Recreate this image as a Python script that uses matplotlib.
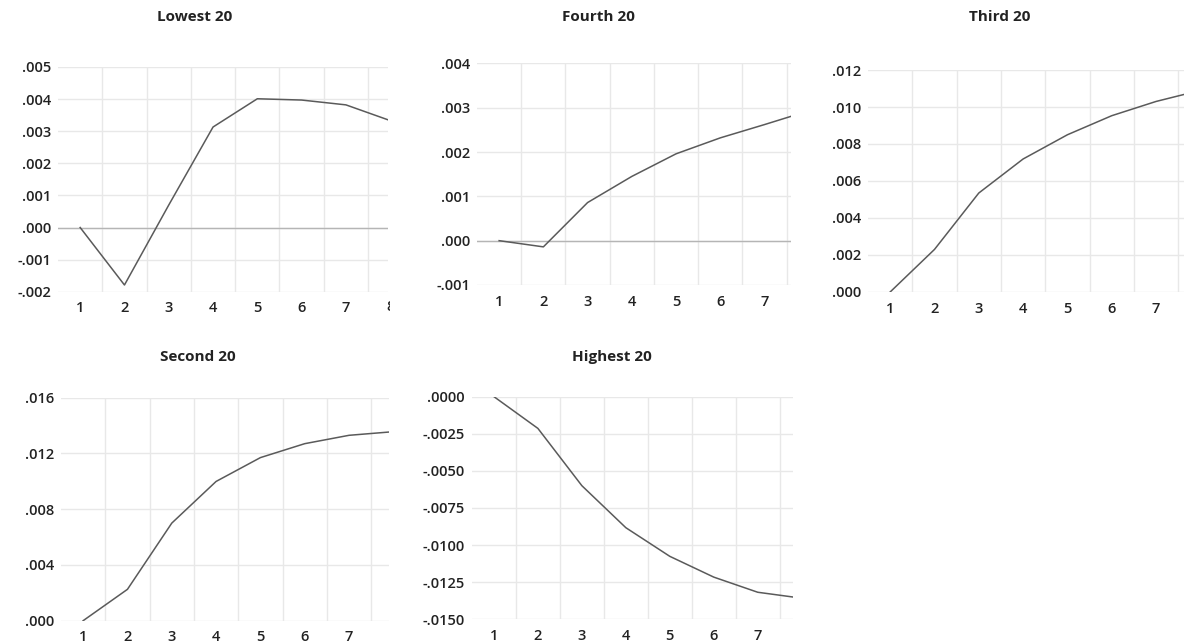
import matplotlib
matplotlib.use("Agg")
from matplotlib import pyplot as plt
from matplotlib.ticker import FixedLocator
from matplotlib.transforms import Bbox
import numpy as np

plt.rcParams['font.family'] = ['Open Sans', 'DejaVu Sans']

periods = [1, 2, 3, 4, 5, 6, 7, 8]

lowest = [0.0, -0.00179, 0.00070, 0.00313, 0.00401, 0.00397, 0.00382, 0.00333]
fourth = [0.0, -0.00014, 0.00086, 0.00145, 0.00196, 0.00232, 0.00262, 0.00293]
third = [0.0, 0.00230, 0.00535, 0.00719, 0.00850, 0.00953, 0.01030, 0.01090]
second = [0.0, 0.00225, 0.00700, 0.00999, 0.01170, 0.01270, 0.01330, 0.01356]
highest = [0.0, -0.00214, -0.00600, -0.00883, -0.01076, -0.01216, -0.01318, -0.01358]

titles = ["Lowest 20", "Fourth 20", "Third 20", "Second 20", "Highest 20"]
series = [lowest, fourth, third, second, highest]
yticks = [
    [-0.002, -0.001, 0.0, 0.001, 0.002, 0.003, 0.004, 0.005],
    [-0.001, 0.0, 0.001, 0.002, 0.003, 0.004],
    [0.0, 0.002, 0.004, 0.006, 0.008, 0.010, 0.012],
    [0.0, 0.004, 0.008, 0.012, 0.016],
    [-0.015, -0.0125, -0.010, -0.0075, -0.005, -0.0025, 0.0],
]
ydigits = [3, 3, 3, 3, 4]
xright = [7.95, 7.6, 7.63, 7.9, 7.8]

# axes boxes in figure fractions (left, bottom, width, height)
boxes = [
    (0.049, 0.547, 0.2787, 0.349),
    (0.4029, 0.5575, 0.2652, 0.344),
    (0.7331, 0.5466, 0.2669, 0.3447),
    (0.0515, 0.0362, 0.277, 0.3463),
    (0.3986, 0.0384, 0.2711, 0.3457),
]
title_pos = [(195, 17), (598, 17), (1000, 17), (198, 357), (612, 357)]

W, H = 1184, 644
fig = plt.figure(figsize=(W / 100, H / 100), dpi=100)


def fmt(v, d):
    s = "%.*f" % (d, v)
    s = s.replace("0.", ".", 1)
    if s.startswith("-") and float(s) == 0:
        s = s[1:]
    return s


for i in range(5):
    ax = fig.add_axes(boxes[i])
    for s in ax.spines.values():
        s.set_visible(False)
    xt = periods[:-1]
    ax.set_xticks(xt)
    ax.set_xticklabels([str(p) for p in xt])
    ax.xaxis.set_minor_locator(FixedLocator(np.arange(1.5, 8.0, 1.0)))
    ax.set_yticks(yticks[i])
    ax.set_yticklabels([fmt(v, ydigits[i]) for v in yticks[i]])
    ax.set_xlim(0.5, xright[i])
    ax.set_ylim(yticks[i][0], yticks[i][-1])
    ax.tick_params(axis='both', which='both', length=0, labelsize=10.5,
                   colors='#222222')
    ax.tick_params(axis='x', pad=7)
    ax.tick_params(axis='y', pad=5)
    for lab in ax.get_xticklabels() + ax.get_yticklabels():
        lab.set_fontweight('semibold')
    ax.grid(True, axis='y', color='#e8e8e8', linewidth=1)
    ax.grid(True, axis='x', which='minor', color='#e8e8e8', linewidth=1)
    ax.set_axisbelow(True)
    if yticks[i][0] < 0 < yticks[i][-1]:
        ax.axhline(0, color='#b5b5b5', linewidth=1, zorder=1)
    ax.plot(periods, series[i], color='#5a5a5a', linewidth=1.1, zorder=3,
            clip_on=True)
    tx, ty = title_pos[i]
    fig.text(tx / W, 1 - ty / H, titles[i], ha='center', va='center',
             fontsize=11, fontweight='bold', color='#222222')

# the first panel shows only a sliver of its "8" label at the cut edge
t8 = fig.text(391 / W, 1 - 307 / H, "8", ha='center', va='center',
              fontsize=10.5, fontweight='semibold', color='#222222')
t8.set_clip_on(True)
t8.set_clip_box(Bbox.from_extents(0, 0, 390, H))

fig.savefig("out.png", dpi=100)
